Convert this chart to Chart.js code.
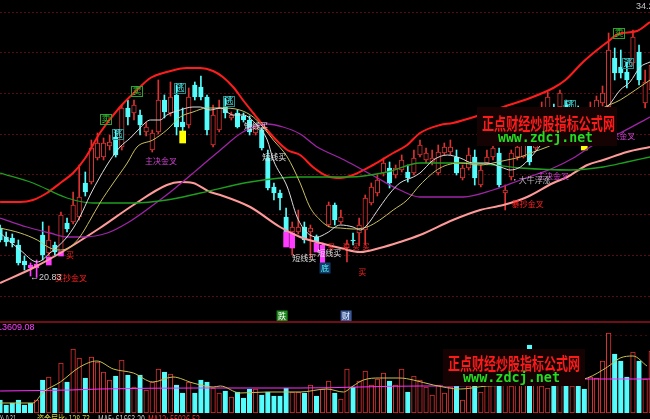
<!DOCTYPE html>
<html><head><meta charset="utf-8">
<script src="https://cdn.jsdelivr.net/npm/chart.js@4.4.0/dist/chart.umd.min.js"></script>
<style>
html,body{margin:0;padding:0;background:#000;overflow:hidden;}
#wrap{position:relative;width:650px;height:419px;background:#000;}
#c1{position:absolute;left:0;top:0;}
#c2{position:absolute;left:0;top:321px;}
</style></head><body>
<div id="wrap">
<canvas id="c1" width="650" height="321"></canvas>
<canvas id="c2" width="650" height="98"></canvas>
</div>
<script>
// ---------------- data ----------------
const openP = [23.30,22.85,22.80,22.45,21.65,21.45,21.30,22.95,22.05,22.45,22.10,23.55,23.60,23.85,25.55,25.60,26.80,26.85,27.40,27.85,
27.35,29.30,29.05,28.95,28.10,27.20,28.10,29.70,29.05,29.95,28.60,28.45,30.45,30.35,29.85,27.45,28.20,29.35,28.80,29.05,
28.90,28.70,28.05,28.20,26.80,25.35,25.05,23.85,23.10,23.10,23.35,23.10,22.85,21.55,23.45,24.45,23.60,22.30,22.70,23.05,
23.20,24.55,25.05,26.05,26.30,25.95,26.20,26.10,26.05,26.95,26.70,26.60,26.05,27.05,27.10,26.85,25.80,26.30,26.85,25.45,
26.55,26.85,27.05,25.05,25.85,26.85,26.85,27.45,27.30,28.30,28.80,29.30,29.35,29.45,28.30,29.20,28.80,28.60,29.10,29.55,
29.35,31.80,31.35,31.10,31.55,32.10,29.55,30.20];
const closeP = [22.70,22.60,22.55,21.55,21.45,21.30,21.50,21.95,22.70,22.10,23.95,23.25,24.45,24.85,25.10,27.30,27.55,27.55,27.60,26.95,
29.30,28.85,29.45,28.45,28.35,28.05,29.70,29.10,29.85,28.35,28.35,29.85,29.85,29.85,28.20,28.95,29.30,29.05,28.95,28.35,
28.70,28.10,28.30,27.30,25.30,25.05,24.80,23.10,23.35,23.35,22.70,23.30,22.60,22.45,24.45,23.70,23.85,22.50,22.65,23.45,
24.80,25.35,25.70,26.55,25.55,26.30,26.70,25.80,26.80,27.45,27.05,26.80,27.10,27.35,27.35,26.05,26.30,26.95,25.80,26.20,
26.85,27.30,25.45,25.20,27.05,27.35,27.45,26.60,27.95,29.10,29.85,28.70,30.05,28.80,29.10,28.45,27.95,29.30,29.70,30.05,
32.20,31.05,31.05,30.70,32.85,30.70,30.60,31.45];
const highP = [23.45,23.10,23.00,22.70,21.90,21.55,21.70,23.60,23.40,22.60,24.10,23.80,25.10,26.45,26.10,27.70,28.05,27.80,27.95,28.20,
29.45,29.70,29.70,29.20,28.60,28.20,30.70,29.95,30.60,30.45,29.30,30.30,30.60,30.90,29.95,29.45,29.70,29.80,29.10,29.20,
29.05,28.90,28.45,28.30,27.20,25.55,25.20,24.30,23.60,24.20,23.60,23.45,22.95,22.55,24.60,24.55,24.20,22.70,23.05,23.80,
24.95,25.55,25.95,26.80,26.60,26.45,26.95,26.45,27.20,27.70,27.30,27.20,27.45,27.55,27.70,27.20,26.45,27.30,27.20,26.45,
27.20,27.70,27.30,25.45,27.20,27.70,27.95,28.20,28.30,29.60,30.10,29.50,30.20,29.70,29.30,29.40,29.10,29.60,29.90,30.40,
33.05,32.30,32.20,31.60,33.20,32.45,31.20,31.95];
const lowP = [22.60,22.40,22.35,21.45,21.20,20.90,20.83,21.70,21.90,21.95,22.05,23.10,23.50,23.70,24.90,25.50,26.70,26.70,27.20,26.85,
27.20,28.45,28.70,27.95,27.90,27.10,28.00,28.80,28.90,27.95,27.95,28.30,29.70,29.70,27.95,27.35,28.10,28.80,28.70,28.30,
28.60,27.95,27.95,27.20,25.20,24.70,24.20,23.00,21.95,23.00,22.55,21.80,22.45,21.45,23.35,23.45,23.50,21.60,22.45,22.40,
22.45,24.45,24.90,25.90,25.30,25.80,26.10,25.60,25.95,26.85,26.55,26.45,25.95,26.95,26.95,25.95,25.70,26.20,25.45,25.35,
26.45,26.70,25.35,24.20,25.70,26.70,26.80,26.45,27.20,28.20,28.70,28.50,29.10,28.60,28.10,28.20,27.70,28.40,28.95,29.40,
29.20,30.70,30.80,30.30,31.40,30.45,29.30,29.95];
const volume = [2015,1240,1550,2015,1240,1550,2015,5115,5580,3875,7750,4805,9920,8525,5425,8680,7905,6355,5115,5735,
8215,5890,4030,5890,3565,4805,6820,6355,6045,4340,3100,4805,3100,5115,4805,3875,3100,3410,2480,3255,
2325,3720,3720,2790,3255,2635,2635,3875,3255,3255,3100,4340,2635,3720,4960,3100,2170,6820,4030,4960,
6510,4340,5270,6200,4960,4340,6820,3255,5735,5115,4030,2790,4340,3100,4030,4340,2015,4185,4495,3255,
4495,4650,5115,4495,4185,4650,4960,10540,4495,4185,3875,4805,4340,4650,4185,4495,3720,5580,5425,8060,
12400,9145,8060,5580,9455,8060,5270,9610];
const specialIdx = [5,6,53];            // magenta candles
const sigIdx = [8,10,47,48,52];          // magenta signal boxes
const sigTop = [21.85,22.10,23.10,23.05,22.55];
const sigBot = [21.45,21.90,22.35,22.30,22.10];
const flagIdx = [30,96];                 // yellow boxes
const flagTop = [28.15,27.55];
const flagBot = [27.55,27.20];
const gridPrices = [34.10,32.075,30.05,28.025,26.0,23.975,21.95,19.925];

const maRedIdx = [0,3.3,5.4,7.7,9.9,12.0,14.0,16.4,19.7,23.0,24.7,27.4,30.7,32.9,35.0,36.6,38.3,39.9,41.6,43.2,44.9,47.2,49.3,51.4,53.7,55.9,58.0,61.3,64.6,66.9,69.0,72.3,74.4,78.9,82.7,87.1,90.9,92.9,95.8,98.1,99.8,101.6,104.7,106.8];
const maRedVal = [24.60,24.60,24.70,25.05,25.55,26.05,26.80,28.05,29.35,30.35,30.80,31.10,31.30,31.30,31.15,30.85,30.35,29.70,29.05,28.45,27.85,27.20,26.95,26.35,25.90,25.80,25.95,26.45,27.05,27.45,28.05,28.45,28.55,28.95,29.35,29.80,30.30,30.70,31.60,32.20,32.60,33.00,33.15,33.60];
const maPinkIdx = [0,5.4,9.9,16.4,21.9,27.4,29.6,31.7,34.5,36.2,41.1,46.0,49.3,52.6,55.9,59.2,62.4,65.7,69.0,74.4,78.9,82.7,86.6,90.9,93.2,96.5,99.1,103.0,106.8];
const maPinkVal = [20.55,21.30,22.05,23.30,24.45,25.45,25.60,25.55,25.10,24.95,24.35,23.35,22.85,22.55,22.30,22.10,22.30,22.60,22.95,23.70,24.20,24.45,24.85,25.55,25.85,26.45,26.70,27.10,27.35];
const maPurpleIdx = [0,4.4,8.2,11.0,13.6,17.6,20.9,24.7,28.4,32.9,36.2,39.9,43.9,46.5,49.3,52.1,53.7,55.9,57.5,62.0,65.7,69.0,76.1,81.0,85.5,90.9,94.2,97.5,101.9,106.8];
const maPurpleVal = [23.80,23.35,23.05,22.85,22.85,23.05,23.55,24.35,25.20,26.35,27.20,28.10,28.50,28.35,28.00,27.35,27.10,26.80,26.55,25.80,25.20,24.85,24.85,25.20,25.70,26.30,26.80,27.45,28.05,28.85];
const maGreenIdx = [0,5.4,11.0,15.3,21.9,27.4,32.9,41.1,49.3,57.5,63.6,69.0,77.2,85.5,93.7,99.1,103.0,106.8];
const maGreenVal = [26.05,25.55,24.80,24.55,24.55,24.70,25.05,25.60,25.85,25.85,26.10,26.55,26.55,26.30,26.20,26.35,26.60,26.85];
const ma5Idx = [0,3.3,6.1,8.2,11.0,13.1,14.8,16.4,18.1,19.7,21.4,23.0,24.7,26.3,27.4,29.6,31.7,32.9,34.5,36.2,38.3,39.9,42.2,43.9,44.9,47.2,48.8,50.5,52.1,53.7,55.9,58.0,59.2,60.3,62.4,64.1,65.7,67.9,69.0,71.2,73.5,75.6,77.7,80.0,82.7,83.8,85.5,87.1,89.6,92.9,96.1,98.6,99.8,101.9,103.5,105.2,106.8];
const ma5Val = [23.05,22.20,21.60,22.05,22.85,23.85,24.95,25.85,26.70,27.35,27.80,28.30,28.70,28.70,28.95,29.20,29.35,29.35,29.20,29.30,28.95,28.95,28.45,27.70,26.70,25.35,23.85,23.05,22.85,23.05,23.45,23.35,23.20,23.45,24.35,25.05,25.55,25.85,26.05,26.70,26.95,26.80,26.55,26.55,26.30,26.20,26.35,26.80,27.70,28.45,28.80,29.10,29.35,30.20,30.60,31.35,31.60];
const ma10Idx = [0,3.3,6.1,8.2,9.9,11.5,13.1,14.8,16.4,18.6,20.9,22.5,25.1,27.4,29.6,31.7,34.0,36.2,39.4,41.6,43.2,44.9,47.2,49.3,50.9,52.6,54.2,55.9,58.0,60.3,62.4,64.6,66.9,69.0,72.3,75.6,78.9,81.0,83.3,85.5,87.6,89.9,93.7,97.0,98.6,101.9,104.4,106.8];
const ma10Val = [23.30,23.05,22.70,22.30,22.20,22.35,22.85,23.70,24.55,25.55,26.55,27.35,27.70,28.20,28.85,29.10,29.30,29.30,29.20,28.85,28.35,27.70,26.85,25.55,24.35,23.70,23.35,23.30,23.25,23.35,23.70,24.20,24.70,25.45,26.30,26.55,26.45,26.55,26.70,26.85,27.10,27.35,27.95,28.70,29.20,29.70,30.20,30.70];
const volMaYIdx = [0,5.4,7.1,9.9,13.1,15.9,18.6,21.9,25.1,28.4,31.7,35.0,36.2,39.4,43.9,49.3,53.7,56.4,58.0,59.7,62.4,65.7,67.9,71.2,75.6,80.0,85.5,91.2,96.5,99.8,101.9,104.0,106.3];
const volMaYVal = [1550,1550,3255,4805,7130,8060,6820,6200,4805,5580,4650,4030,4185,3100,3255,3255,3720,3255,4185,5115,5425,5425,5115,4340,3720,4185,4340,4495,5425,7130,8525,8835,7285];
const volMaMIdx = [0,11.5,16.4,32.9,49.3,69.0,74.0,85.0,96.1,106.8];
const volMaMVal = [3410,3565,3720,3875,3875,4185,4185,4700,5270,5270];

// ---------------- styling ----------------
const XMIN = -0.016, XMAX = 106.8;
const RED = '#dc3232', CYAN = '#54fcfc', MAG = '#ff3cff';
const idx = openP.map((_, i) => i);
const up = idx.map(i => closeP[i] >= openP[i]);
const isSpecial = idx.map(i => specialIdx.includes(i));
const lineCol = idx.map(i => isSpecial[i] ? MAG : (up[i] ? RED : CYAN));
const fillCol = idx.map(i => isSpecial[i] ? MAG : (up[i] ? '#000' : CYAN));
const volLine = idx.map(i => up[i] ? RED : CYAN);
const volFill = idx.map(i => up[i] ? '#000' : CYAN);

function pts(xs, ys) { return xs.map((x, k) => ({ x: x, y: ys[k] })); }
function lineDS(xs, ys, color, w, order) {
  return { type: 'line', data: pts(xs, ys), borderColor: color, borderWidth: w, pointRadius: 0,
           cubicInterpolationMode: 'monotone', fill: false, order: order };
}

const CJK = '"Noto Sans CJK SC"';
const notes = [
  { t: '卖', i: 17.42, p: 28.75, c: '#30d030', a: 'center', bd: '#30a030', f: '9px ' + CJK },
  { t: '卖', i: 22.51, p: 30.15, c: '#30d030', a: 'center', bd: '#30a030', f: '9px ' + CJK },
  { t: '卖', i: 101.7, p: 33.05, c: '#30d030', a: 'center', bd: '#30a030', f: '9px ' + CJK },
  { t: '逃', i: 19.39, p: 28.0, c: CYAN, a: 'center', bd: '#2a8a8a', f: '9px ' + CJK },
  { t: '逃', i: 29.58, p: 30.3, c: CYAN, a: 'center', bd: '#2a8a8a', f: '9px ' + CJK },
  { t: '逃', i: 37.63, p: 29.65, c: CYAN, a: 'center', bd: '#2a8a8a', f: '9px ' + CJK },
  { t: '逃', i: 93.67, p: 29.45, c: CYAN, a: 'center', bd: '#2a8a8a', f: '9px ' + CJK },
  { t: '逃', i: 103.2, p: 31.55, c: CYAN, a: 'center', bd: '#2a8a8a', f: '9px ' + CJK },
  { t: '主决金叉', i: 23.83, p: 26.65, c: '#d040d0', a: 'left', f: '8px ' + CJK },
  { t: '主决金叉', i: 88.25, p: 25.9, c: '#d040d0', a: 'left', f: '8px ' + CJK },
  { t: '主决金叉', i: 99.1, p: 27.9, c: '#d040d0', a: 'left', f: '8px ' + CJK },
  { t: '•大牛浮涨', i: 83.9, p: 25.7, c: '#b8b8b8', a: 'left', f: '8px ' + CJK },
  { t: '暴抄金叉', i: 84.1, p: 24.5, c: '#ff2020', a: 'left', f: '8px ' + CJK },
  { t: '买抄金叉', i: 9.04, p: 20.8, c: '#ff2020', a: 'left', f: '8px ' + CJK },
  { t: '←20.83', i: 4.93, p: 20.8, c: '#d0d0d0', a: 'left', f: '9px "Liberation Sans"' },
  { t: '短线买', i: 40.1, p: 28.4, c: '#e0e0e0', a: 'left', f: '8px ' + CJK },
  { t: '短线买', i: 43.06, p: 26.85, c: '#e0e0e0', a: 'left', f: '8px ' + CJK },
  { t: '短线买', i: 47.99, p: 21.8, c: '#e0e0e0', a: 'left', f: '8px ' + CJK },
  { t: '短线买', i: 52.1, p: 22.05, c: '#e0e0e0', a: 'left', f: '8px ' + CJK },
  { t: '底', i: 53.4, p: 21.3, c: CYAN, a: 'center', bg: '#123a6a', f: '8px ' + CJK },
  { t: '买', i: 11.5, p: 21.95, c: '#ff2020', a: 'center', f: '8px ' + CJK },
  { t: '买', i: 59.5, p: 21.1, c: '#ff2020', a: 'center', f: '8px ' + CJK },
  { t: '买', i: 54.4, p: 22.4, c: '#ff2020', a: 'center', f: '7px ' + CJK },
  { t: '买', i: 56.86, p: 22.4, c: '#ff2020', a: 'center', f: '7px ' + CJK },
  { t: '买', i: 58.5, p: 22.4, c: '#ff2020', a: 'center', f: '7px ' + CJK },
  { t: '买', i: 60.15, p: 22.4, c: '#ff2020', a: 'center', f: '7px ' + CJK },
  { t: '跌', i: 46.34, p: 18.9, c: '#ffffff', a: 'center', bg: '#1e8a1e', f: '8px ' + CJK },
  { t: '财', i: 56.86, p: 18.9, c: '#ffffff', a: 'center', bg: '#3a5a9a', f: '8px ' + CJK },
  { t: '34.2', i: 104.5, p: 34.35, c: '#c8c8c8', a: 'left', f: '9px "Liberation Sans"' }
];

function drawNote(ch, n) {
  const ctx = ch.ctx;
  const x = ch.scales.x.getPixelForValue(n.i), y = ch.scales.y.getPixelForValue(n.p);
  ctx.font = n.f; ctx.textBaseline = 'middle'; ctx.textAlign = n.a;
  const w = ctx.measureText(n.t).width;
  const left = n.a === 'center' ? x - w / 2 : x;
  if (n.bg) { ctx.fillStyle = n.bg; ctx.fillRect(left - 1.5, y - 5.5, w + 3, 11); }
  if (n.bd) { ctx.strokeStyle = n.bd; ctx.lineWidth = 1; ctx.strokeRect(Math.round(left - 1.5) + 0.5, Math.round(y - 5.5) + 0.5, Math.round(w + 2), 10); }
  ctx.fillStyle = n.c; ctx.fillText(n.t, x, y);
}

function watermark(ctx, bx, by, bw, bh, tx, ty, tw, gx, gy, gw) {
  ctx.save();
  ctx.fillStyle = '#150303'; ctx.fillRect(bx, by, bw, bh);
  ctx.textBaseline = 'middle'; ctx.textAlign = 'left';
  ctx.font = 'bold 17px ' + CJK; ctx.fillStyle = '#ff1a1a';
  ctx.fillText('正点财经炒股指标公式网', tx, ty, tw);
  ctx.font = 'bold 14px "DejaVu Sans Mono"'; ctx.fillStyle = '#22dd22';
  ctx.fillText('www.zdcj.net', gx, gy, gw);
  ctx.restore();
}

const topDeco = {
  id: 'topDeco',
  beforeDatasetsDraw(ch) {
    const ctx = ch.ctx, ys = ch.scales.y, a = ch.chartArea;
    ctx.save();
    ctx.strokeStyle = '#560c16'; ctx.lineWidth = 1; ctx.setLineDash([2, 2]);
    gridPrices.forEach(p => {
      const y = Math.round(ys.getPixelForValue(p)) + 0.5;
      ctx.beginPath(); ctx.moveTo(a.left, y); ctx.lineTo(a.right, y); ctx.stroke();
    });
    ctx.restore();
  },
  afterDatasetsDraw(ch) {
    const ctx = ch.ctx;
    ctx.save();
    notes.forEach(n => drawNote(ch, n));
    ctx.restore();
    watermark(ctx, 477, 107, 140, 39, 482, 124, 133, 498, 138.5, 95);
  }
};

const volDeco = {
  id: 'volDeco',
  beforeDatasetsDraw(ch) {
    const ctx = ch.ctx;
    ctx.save();
    ctx.strokeStyle = '#3e0a10'; ctx.lineWidth = 1; ctx.setLineDash([2, 3]);
    ctx.beginPath(); ctx.moveTo(0, 14.5); ctx.lineTo(650, 14.5); ctx.stroke();
    ctx.restore();
  },
  afterDatasetsDraw(ch) {
    const ctx = ch.ctx;
    ctx.save();
    ctx.fillStyle = '#6e0f18'; ctx.fillRect(0, 0, 650, 2);
    ctx.font = '9px "Liberation Sans"'; ctx.textBaseline = 'top'; ctx.textAlign = 'left';
    ctx.fillStyle = '#ff40ff'; ctx.fillText('13609.08', -3, 2);
    ctx.restore();
    watermark(ctx, 443, 28, 142, 37, 448, 42.5, 132, 463, 57.5, 97);
    ctx.save();
    ctx.font = '10px ' + CJK; ctx.textBaseline = 'top'; ctx.textAlign = 'left';
    ctx.fillStyle = '#c8c8c8'; ctx.fillText('X: 0.31', 0, 93, 16);
    ctx.fillStyle = '#d0d040'; ctx.fillText('资金层比: 128.73', 37, 93, 53);
    ctx.fillStyle = '#c8c8c8'; ctx.fillText('MA5: 61663.20', 98, 93, 47);
    ctx.fillStyle = '#ff3030'; ctx.fillText('MA12: 55026.52', 148, 93, 52);
    ctx.restore();
  }
};

const common = {
  responsive: false, animation: false, devicePixelRatio: 1, events: [],
  plugins: { legend: { display: false }, tooltip: { enabled: false } }
};

new Chart(document.getElementById('c1'), {
  type: 'bar',
  data: {
    datasets: [
      lineDS(ma5Idx, ma5Val, '#dcdcdc', 1, 1),
      lineDS(ma10Idx, ma10Val, '#c8c060', 1, 2),
      lineDS(maGreenIdx, maGreenVal, '#1e9e1e', 1.3, 3),
      lineDS(maPurpleIdx, maPurpleVal, '#a024a8', 1.3, 4),
      lineDS(maPinkIdx, maPinkVal, '#ff9a9a', 2, 5),
      lineDS(maRedIdx, maRedVal, '#ff1c1c', 2, 6),
      { type: 'bar', data: flagIdx.map((x, k) => ({ x: x, y: [flagBot[k], flagTop[k]] })),
        backgroundColor: '#ffff00', borderWidth: 0, barThickness: 6, grouped: false, order: 17 },
      { type: 'bar', data: sigIdx.map((x, k) => ({ x: x, y: [sigBot[k], sigTop[k]] })),
        backgroundColor: MAG, borderWidth: 0, barThickness: 5, grouped: false, order: 18 },
      { type: 'bar', data: idx.map(i => ({ x: i, y: [openP[i], closeP[i]] })),
        backgroundColor: fillCol, borderColor: lineCol, borderWidth: 1, borderSkipped: false,
        barThickness: 4.6, minBarLength: 1, grouped: false, order: 19 },
      { type: 'bar', data: idx.map(i => ({ x: i, y: [lowP[i], highP[i]] })),
        backgroundColor: lineCol, borderWidth: 0, barThickness: 1, grouped: false, order: 20 }
    ]
  },
  options: Object.assign({}, common, {
    layout: { padding: 0 },
    scales: {
      x: { type: 'linear', min: XMIN, max: XMAX, display: false, offset: false },
      y: { min: 18.65, max: 34.7, display: false }
    }
  }),
  plugins: [topDeco]
});

new Chart(document.getElementById('c2'), {
  type: 'bar',
  data: {
    datasets: [
      lineDS(volMaYIdx, volMaYVal, '#c8c050', 1, 1),
      lineDS(volMaMIdx, volMaMVal, '#ff30ff', 1, 2),
      { type: 'bar', data: idx.map(i => ({ x: i, y: volume[i] })),
        backgroundColor: volFill, borderColor: volLine, borderWidth: 1, borderSkipped: false,
        barThickness: 4.6, grouped: false, order: 10 }
    ]
  },
  options: Object.assign({}, common, {
    layout: { padding: { left: 0, right: 0, top: 0, bottom: 6 } },
    scales: {
      x: { type: 'linear', min: XMIN, max: XMAX, display: false, offset: false },
      y: { min: 0, max: 14260, display: false }
    }
  }),
  plugins: [volDeco]
});
</script>
</body></html>
